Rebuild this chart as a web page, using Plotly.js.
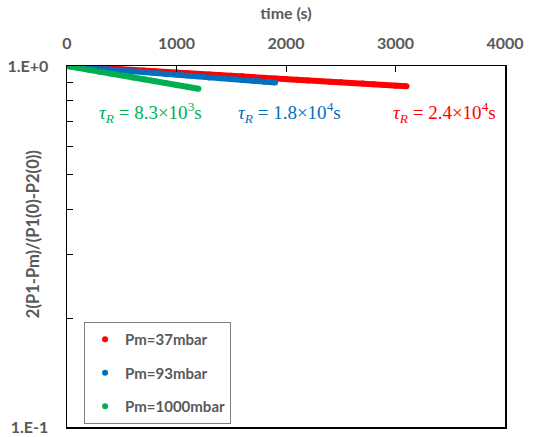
<!DOCTYPE html>
<html><head><meta charset="utf-8">
<script src="https://cdn.plot.ly/plotly-3.0.1.min.js"></script>
<style>html,body{margin:0;padding:0;background:#fff}#c{width:541px;height:437px}</style>
</head><body><div id="c"></div>
<script>
// time (s)
const tRed = [0,100,200,300,400,500,600,700,800,900,1000,1100,1200,1300,1400,1500,1600,1700,1800,1900,2000,2100,2200,2300,2400,2500,2600,2700,2800,2900,3000,3100];
const yRed = [1.000,0.996,0.992,0.988,0.983,0.979,0.975,0.971,0.967,0.963,0.959,0.955,0.951,0.947,0.943,0.939,0.936,0.932,0.928,0.924,0.920,0.916,0.912,0.909,0.905,0.901,0.897,0.894,0.890,0.886,0.882,0.879];
const tBlue = [0,100,200,300,400,500,600,700,800,900,1000,1100,1200,1300,1400,1500,1600,1700,1800,1900];
const yBlue = [1.000,0.994,0.989,0.983,0.978,0.973,0.967,0.962,0.957,0.951,0.946,0.941,0.936,0.930,0.925,0.920,0.915,0.910,0.905,0.900];
const tGreen = [0,100,200,300,400,500,600,700,800,900,1000,1100,1200];
const yGreen = [1.000,0.988,0.976,0.964,0.953,0.942,0.930,0.919,0.908,0.897,0.886,0.876,0.865];
const names = ['Pm=37mbar','Pm=93mbar','Pm=1000mbar'];
const tauLabels = ['<i>τ</i><sub><i>R</i></sub> = 2.4×10<sup>4</sup>s','<i>τ</i><sub><i>R</i></sub> = 1.8×10<sup>4</sup>s','<i>τ</i><sub><i>R</i></sub> = 8.3×10<sup>3</sup>s'];
const tauX = [3450,2036,758];
const tauY = 0.745;
const xTicks = [0,1000,2000,3000,4000];
const yTickVals = [0.1,0.2,0.3,0.4,0.5,0.6,0.7,0.8,0.9,1];
const yTickText = ['1.E-1','','','','','','','','','1.E+0'];

const colors = ['#FF0000','#0070C0','#00B050'];
const series = [[tRed,yRed],[tBlue,yBlue],[tGreen,yGreen]];
const traces = [];
series.forEach((s,i)=>{
  traces.push({x:s[0],y:s[1],mode:'lines',line:{color:colors[i],width:6},showlegend:false,hoverinfo:'skip'});
});
series.forEach((s,i)=>{
  traces.push({x:s[0],y:s[1],mode:'markers',name:names[i],legendgroup:'g'+i,marker:{color:colors[i],size:6}});
});
const gray='#595959';
const fam='Lato, "Open Sans", sans-serif';
const layout = {
  width:541,height:437,
  margin:{l:67,r:36,t:66,b:10,autoexpand:false},
  paper_bgcolor:'#fff',plot_bgcolor:'#fff',
  font:{family:fam,color:gray},
  xaxis:{side:'top',range:[0,4000],tickvals:xTicks,ticks:'inside',ticklen:6,tickcolor:'#000',
    showgrid:false,zeroline:false,showline:true,linecolor:'#000',linewidth:1.5,mirror:true,
    ticklabelstandoff:9,
    tickfont:{size:16,color:gray,family:fam,weight:'bold'},
    title:{text:'<b>time (s)</b>',font:{size:16,color:gray},standoff:9}},
  yaxis:{type:'log',range:[-1,0],tickvals:yTickVals,ticktext:yTickText,ticks:'inside',ticklen:6,tickcolor:'#000',
    showgrid:false,zeroline:false,showline:true,linecolor:'#000',linewidth:1.5,mirror:true,
    ticklabelstandoff:14,
    tickfont:{size:16,color:gray,family:fam,weight:'bold'}},
  legend:{x:0.039,y:0.291,xanchor:'left',yanchor:'top',bordercolor:'#808080',borderwidth:1,bgcolor:'#fff',
    itemwidth:30,traceorder:'grouped',tracegroupgap:11,font:{size:15,color:gray,family:fam,weight:'bold'}},
  annotations:[
    {xref:'paper',yref:'paper',x:-0.077,y:0.535,xanchor:'center',yanchor:'middle',textangle:-90,showarrow:false,
     text:'<b>2(P1-Pm)/(P1(0)-P2(0))</b>',font:{size:16.5,color:gray,family:fam}}
  ].concat(tauLabels.map((t,i)=>({x:tauX[i],y:Math.log10(tauY),text:t,showarrow:false,
     font:{size:19,color:colors[i],family:'"Liberation Serif", serif'}})))
};
Plotly.newPlot('c',traces,layout,{displayModeBar:false,staticPlot:true});
</script></body></html>
